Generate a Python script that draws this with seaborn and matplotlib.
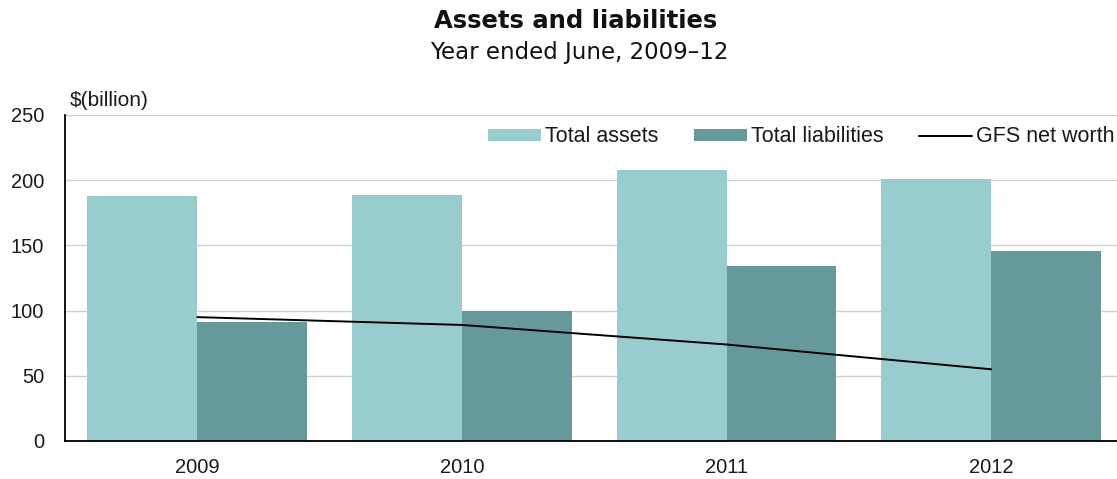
import numpy as np
import pandas as pd
import matplotlib
matplotlib.use("Agg")
import matplotlib.pyplot as plt
import seaborn as sns

years = ["2009", "2010", "2011", "2012"]
total_assets = [188, 189, 208, 201]
total_liabilities = [91, 100, 134, 146]
gfs_net_worth = [95, 89, 74, 55]
series_names = ["Total assets", "Total liabilities"]
yticks = [0, 50, 100, 150, 200, 250]

sns.set_theme(style="white")
plt.rcParams['font.family'] = ['Liberation Sans', 'DejaVu Sans']

df = pd.DataFrame({
    "year": years * 2,
    "value": total_assets + total_liabilities,
    "series": [series_names[0]] * 4 + [series_names[1]] * 4,
})

W, H = 1117, 479
fig = plt.figure(figsize=(W / 100, H / 100), dpi=100)
ax = fig.add_axes([65 / W, 38 / H, (1123.5 - 65) / W, (441 - 115) / H])

palette = {"Total assets": "#99cccc", "Total liabilities": "#669999"}
sns.barplot(data=df, x="year", y="value", hue="series", order=years,
            hue_order=series_names, palette=palette, width=0.83, gap=0,
            saturation=1, ax=ax, legend=True, linewidth=0, edgecolor="none")
sns.lineplot(x=np.arange(len(years)), y=gfs_net_worth, color="black",
             linewidth=1.4, ax=ax, label="GFS net worth")

ax.set_xlim(-0.5, 3.5)
ax.set_ylim(0, 250)
ax.set_yticks(yticks)
ax.yaxis.grid(True, color="#d0d0d0", linewidth=1)
ax.set_axisbelow(True)
ax.set_xlabel("")
ax.set_ylabel("")
for s in ["top", "right"]:
    ax.spines[s].set_visible(False)
for s in ["left", "bottom"]:
    ax.spines[s].set_color("black")
    ax.spines[s].set_linewidth(1.3)
ax.tick_params(axis="both", length=0, labelsize=14.5, colors="#1a1a1a")
ax.tick_params(axis="x", pad=12)
ax.tick_params(axis="y", pad=15)

handles, labels = ax.get_legend_handles_labels()
leg = ax.legend(handles, labels, loc="center left", bbox_to_anchor=(488 / W, (479 - 137) / H),
                bbox_transform=fig.transFigure, ncol=3, frameon=False,
                fontsize=15.5, handlelength=2.45, handleheight=0.46, handletextpad=0.2,
                columnspacing=1.65, borderaxespad=0, borderpad=0)
for t in leg.get_texts():
    t.set_color("#1a1a1a")

fig.text(576 / W, (479 - 21) / H, "Assets and liabilities", ha="center", va="center",
         fontsize=17.5, fontweight="bold", color="#111111", family=["DejaVu Sans"])
fig.text(579 / W, (479 - 53) / H, "Year ended June, 2009\u201312", ha="center", va="center",
         fontsize=16.5, color="#111111", family=["DejaVu Sans"])
fig.text(70 / W, (479 - 101) / H, "$(billion)", ha="left", va="center", fontsize=15,
         color="#1a1a1a")

fig.savefig("out.png", dpi=100)
